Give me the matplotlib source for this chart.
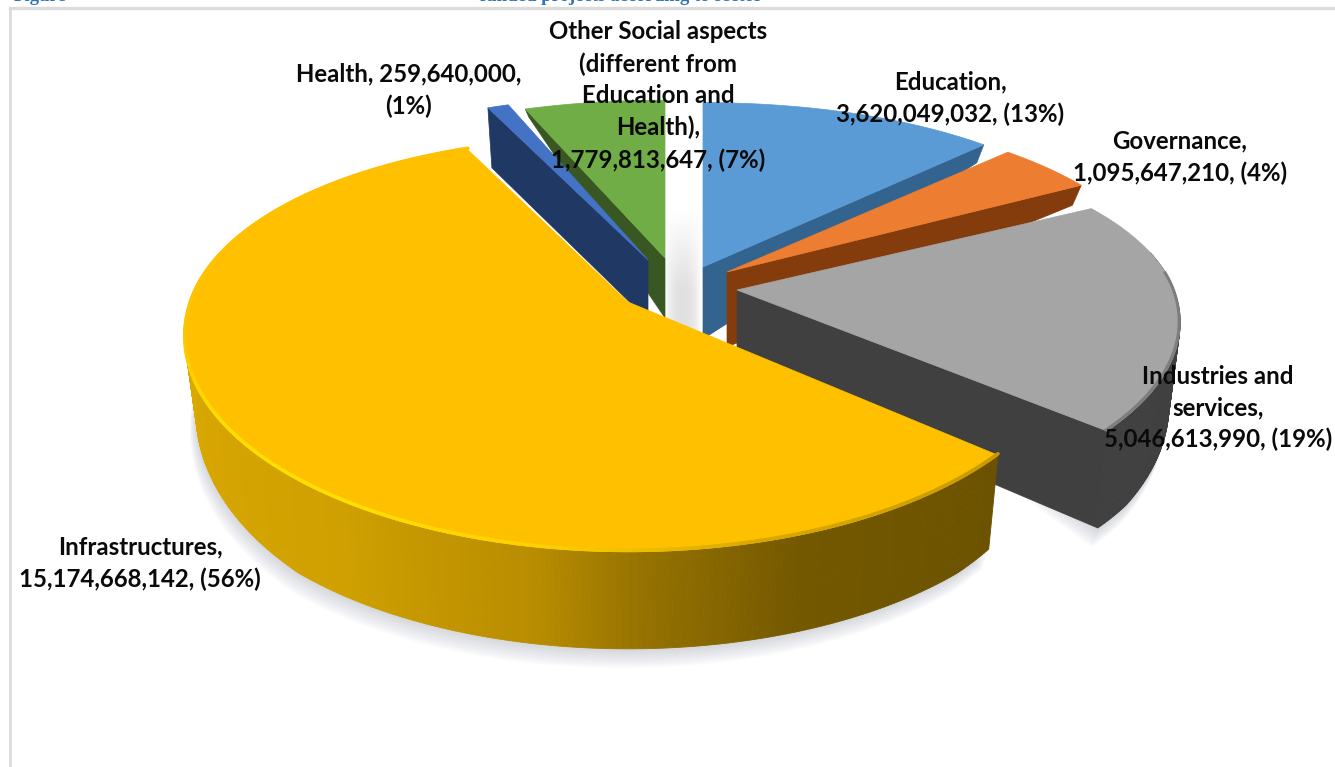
import numpy as np
import matplotlib
matplotlib.use("Agg")
import matplotlib.pyplot as plt
from matplotlib.patches import Polygon
from matplotlib.colors import to_rgb

# ---- data ----
categories = ["Education", "Governance", "Industries and services", "Infrastructures", "Health", "Other Social aspects"]
values = [3620049032, 1095647210, 5046613990, 15174668142, 259640000, 1779813647]
label_templates = [
    "Education,\n{v}, ({p}%)",
    "Governance,\n{v}, ({p}%)",
    "Industries and\nservices,\n{v}, ({p}%)",
    "Infrastructures,\n{v}, ({p}%)",
    "Health, {v},\n({p}%)",
    "Other Social aspects\n(different from\nEducation and\nHealth),\n{v}, ({p}%)",
]

# ---- style / layout, per slice ----
top_colors = ["#5B9BD5", "#ED7D31", "#A5A5A5", "#FFC000", "#4472C4", "#70AD47"]
side_colors = ["#33648F", "#843C0C", "#404040", "#7A5C00", "#203864", "#385723"]
explode_dx = [23, 47, 57, -52, -32, -15]
explode_dy = [-8, -3, 15, 27, -15, -17]
ry_scale = [1.0, 0.98, 0.92, 1.0, 1.0, 0.96]
depth_apex = [72, 75, 85, 80, 60, 60]
depth_rim = [18, 20, 75, 68, 60, 8]
depth_front = [0, 0, 40, 40, 0, 0]
label_xy = [(950, 98), (1180, 157), (1218, 408), (140, 563), (409, 90), (658, 96)]
draw_order = [5, 4, 0, 1, 2, 3]
PIE_CX, PIE_CY = 680, 275
RX, RY = 446, 218
DEPTH_MAX = 97
BOTTOM_SHRINK = 0.975

fig = plt.figure(figsize=(13.35, 7.67), dpi=100)
ax = fig.add_axes([0, 0, 1, 1])
ax.set_xlim(0, 1335)
ax.set_ylim(767, 0)
ax.axis("off")

total = sum(values)
edges = np.concatenate([[0], np.cumsum(values)]) / total * 360.0


def scale(Y):
    return 0.98 - 0.166 * Y - 0.06 * np.maximum(Y, 0) ** 2


def project(i, apex, theta):
    t = np.radians(theta)
    X, Y = np.sin(t), np.cos(t)
    s = scale(Y)
    return apex[0] + RX * X * s, apex[1] - RY * ry_scale[i] * Y * s, Y


def rim_depth(i, Y):
    return np.minimum(DEPTH_MAX, depth_rim[i] + depth_front[i] * np.maximum(0, -Y))


def blend(stops, theta):
    xs = [a for a, _ in stops]
    cs = np.array([to_rgb(c) for _, c in stops])
    return tuple(np.interp(theta, xs, cs[:, k]) for k in range(3))


yellow_side = [(130, "#6B5200"), (160, "#745800"), (178, "#957200"), (190, "#B88C00"),
               (215, "#CFA000"), (270, "#DDAA00"), (340, "#DDAA00")]
yellow_bevel = [(130, "#C89A00"), (165, "#D9A800"), (190, "#FFD000"), (215, "#FFE000"),
                (240, "#FFDC00"), (262, "#FFC400"), (285, "#FFC000"), (340, "#FFC000")]

apexes = [(PIE_CX + dx, PIE_CY + dy) for dx, dy in zip(explode_dx, explode_dy)]

# soft shadow below the front slices
for i in (2, 3):
    th = np.linspace(edges[i], min(edges[i + 1], 285), 160)
    x, y, Y = project(i, apexes[i], th)
    d = rim_depth(i, Y)
    bx = apexes[i][0] + (x - apexes[i][0]) * BOTTOM_SHRINK
    by = y + d
    for k in range(2, 26, 2):
        ax.add_patch(Polygon(np.column_stack([np.r_[bx - k * 0.25, apexes[i][0]], np.r_[by + k * 0.8, apexes[i][1]]]),
                             closed=True, fc="#6E7486", ec="none", alpha=0.022, zorder=1))

# pale strip in the gap between Other Social aspects and Education
gap = np.ones((60, 40, 4))
gap[..., :3] = 0.88
gap[..., 3] = (np.sin(np.linspace(0, np.pi, 40)) ** 0.6)[None, :] * np.clip(np.linspace(-0.4, 1.6, 60), 0, 1)[:, None]
ax.imshow(gap, extent=(665, 701, 335, 180), aspect="auto", zorder=1.5, interpolation="bilinear")
ax.set_xlim(0, 1335)
ax.set_ylim(767, 0)

z = 2.0
for i in draw_order:
    a0, a1 = edges[i], edges[i + 1]
    ap = apexes[i]
    th = np.linspace(a0, a1, max(8, int((a1 - a0) * 2)))
    x, y, Y = project(i, ap, th)
    d = rim_depth(i, Y)
    bx = ap[0] + (x - ap[0]) * BOTTOM_SHRINK
    by = y + d

    # curved outer wall
    for j in range(len(th) - 1):
        if Y[j] < 0.2:
            col = blend(yellow_side, th[j]) if i == 3 else side_colors[i]
            ax.add_patch(Polygon([(x[j], y[j]), (x[j + 1], y[j + 1]), (bx[j + 1], by[j + 1]), (bx[j], by[j])],
                                 closed=True, fc=col, ec=col, lw=0.6, zorder=z))
    z += 0.01

    # radial faces that look towards the viewer
    for theta, k, vis in ((a1, -1, np.sin(np.radians(a1)) > 1e-6), (a0, 0, np.sin(np.radians(a0)) < -1e-6)):
        if vis:
            ax.add_patch(Polygon([ap, (x[k], y[k]), (bx[k], by[k]), (ap[0], ap[1] + depth_apex[i])],
                                 closed=True, fc=side_colors[i], ec=side_colors[i], lw=0.5, zorder=z))
    z += 0.01

    # top surface
    ax.add_patch(Polygon(np.column_stack([np.r_[ap[0], x], np.r_[ap[1], y]]), closed=True,
                         fc=top_colors[i], ec=top_colors[i], lw=0.5, zorder=z))
    z += 0.01

    # bevel along the rim
    if i == 3:
        for j in range(len(th) - 1):
            ax.plot(x[j:j + 2], y[j:j + 2] - 1.5, color=blend(yellow_bevel, th[j]),
                    lw=2.6, solid_capstyle="round", zorder=z)
    if i == 2:
        mask = (th > 85)
        ax.plot(x[mask] - 1, y[mask] - 1, color="#6E6E6E", lw=2.2, alpha=0.7, zorder=z)
    z += 0.01

# labels
for tpl, v, (lx, ly) in zip(label_templates, values, label_xy):
    ax.text(lx, ly, tpl.format(v=f"{v:,}", p=round(100 * v / total)), ha="center", va="center",
            fontsize=17.3, fontweight="bold", family="Lato", color="#0A0A0A",
            linespacing=1.45, zorder=50)

# frame of the chart area and the cropped caption above it
ax.plot([10, 1335], [8, 8], color="#DCDCDC", lw=2.4, zorder=0.5)
ax.plot([10, 10], [8, 767], color="#DCDCDC", lw=2.0, zorder=0.5)
ax.text(14, 1, "Figure", ha="left", va="baseline", fontsize=13.5, fontweight="bold",
        family="Liberation Serif", color="#2E74B5", zorder=50)
ax.text(480, 1, "funded projects according to sector", ha="left", va="baseline", fontsize=13.5,
        fontweight="bold", family="Liberation Serif", color="#2E74B5", zorder=50)

fig.savefig("out.png", dpi=100)
